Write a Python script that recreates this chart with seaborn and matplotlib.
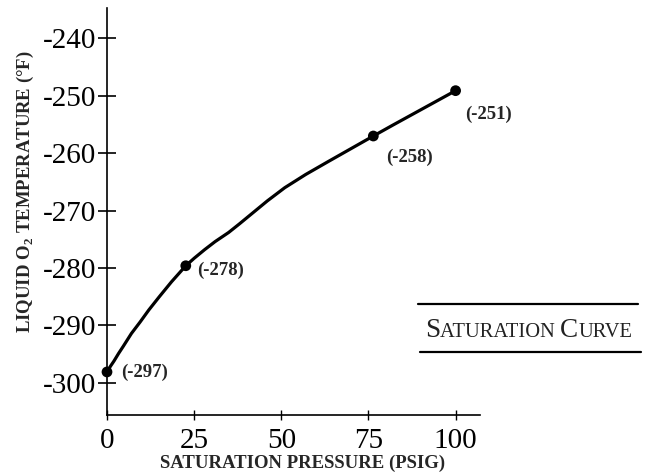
import numpy as np
import pandas as pd
import matplotlib
matplotlib.use("Agg")
import matplotlib.pyplot as plt
import seaborn as sns
from matplotlib.lines import Line2D

# curve samples (psig, degF)
curve_psig = [0, 1, 2, 3.3, 4.7, 7, 9.5, 12, 15, 18.5, 22.6, 25, 28, 31, 34.9, 38, 42, 46, 51,
              57, 63.6, 70, 76.4, 82, 88, 94, 100]
curve_temp = [-298.1, -297.1, -296.2, -294.9, -293.6, -291.4, -289.4, -287.3, -285.0, -282.4,
              -279.6, -278.3, -276.8, -275.4, -273.8, -272.3, -270.3, -268.3, -266.0,
              -263.7, -261.4, -259.2, -257.0, -255.1, -253.1, -251.1, -249.1]

# marked points and their labels
pt_psig = [0, 22.6, 76.4, 100]
pt_temp = [-298.1, -279.6, -257.0, -249.1]
pt_labels = ["(-297)", "(-278)", "(-258)", "(-251)"]
pt_offsets = [(10, 0), (8, -3), (9, -15), (7, -17)]  # points

x_ticks = [0, 25, 50, 75, 100]
y_ticks = [-300, -290, -280, -270, -260, -250, -240]

sns.set_theme(style="white")
plt.rcParams["font.family"] = ["Liberation Serif", "DejaVu Serif"]
plt.rcParams["axes.unicode_minus"] = False
plt.rcParams["mathtext.fontset"] = "custom"
plt.rcParams["mathtext.rm"] = "Liberation Serif"
plt.rcParams["mathtext.bf"] = "Liberation Serif:bold"

fig = plt.figure(figsize=(6.47, 4.74), dpi=100)
ax = fig.add_axes([107 / 647, 1 - 415 / 474, 373 / 647, 407 / 474])

curve = pd.DataFrame({"psig": curve_psig, "temp": curve_temp})
pts = pd.DataFrame({"psig": pt_psig, "temp": pt_temp})

sns.lineplot(data=curve, x="psig", y="temp", sort=False, estimator=None,
             color="black", lw=2.3, ax=ax)
sns.scatterplot(data=pts, x="psig", y="temp", color="black", s=60,
                edgecolor="none", zorder=5, clip_on=False, ax=ax)

for xv, yv, lab, off in zip(pt_psig, pt_temp, pt_labels, pt_offsets):
    ax.annotate(lab, (xv, yv), xytext=off, textcoords="offset points",
                ha="left", va="center", fontsize=13.5, fontweight="bold")

ax.set_xlim(0, 107)
ax.set_ylim(-305.6, -234.7)
ax.set_xticks(x_ticks)
ax.set_yticks(y_ticks)
ax.set_xlabel("")
ax.set_ylabel("")

for s in ["top", "right"]:
    ax.spines[s].set_visible(False)
for s in ["left", "bottom"]:
    ax.spines[s].set_color("black")
    ax.spines[s].set_linewidth(1.2)

ax.tick_params(axis="y", direction="inout", length=13, width=1.2, pad=1,
               labelsize=21, colors="black", left=True)
ax.tick_params(axis="x", direction="inout", length=7, width=1.0, pad=6,
               labelsize=21, colors="black", bottom=True)

fig.text(303 / 647, 1 - 468 / 474, "SATURATION PRESSURE (PSIG)", ha="center",
         va="baseline", fontsize=13.5, fontweight="bold")
fig.text(25 / 647, 1 - 192 / 474, r"LIQUID O$_\mathbf{2}$ TEMPERATURE (°F)",
         rotation=90, ha="center", va="center", fontsize=13.5, fontweight="bold")

# legend-like box with rules above and below
fig.add_artist(Line2D([418 / 647, 638 / 647], [1 - 304 / 474] * 2, color="black", lw=1.6))
fig.add_artist(Line2D([420 / 647, 641 / 647], [1 - 352 / 474] * 2, color="black", lw=1.6))

# small caps "SATURATION CURVE"
pieces = [("S", 19.5), ("ATURATION ", 14.8), ("C", 19.5), ("URVE", 14.8)]
fig.canvas.draw()
renderer = fig.canvas.get_renderer()
xpix = 425
base_y = 1 - 337 / 474
for txt, size in pieces:
    t = fig.text(xpix / 647, base_y, txt, ha="left", va="baseline", fontsize=size,
                 color="#222222")
    bb = t.get_window_extent(renderer)
    xpix += bb.width

fig.savefig("out.png", dpi=100)
